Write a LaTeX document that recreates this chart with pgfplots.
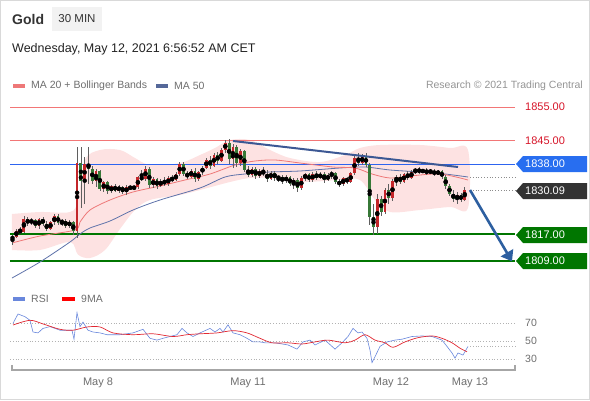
\documentclass[border=0pt]{standalone}
\usepackage{pgfplots}
\pgfplotsset{compat=1.18}
\usepackage{pgfplotstable}
\usepackage{fontspec}
\setmainfont{Liberation Sans}
\usetikzlibrary{arrows.meta}

\definecolor{bbfill}{RGB}{253,226,226}
\definecolor{ma20}{RGB}{238,120,120}
\definecolor{ma50}{RGB}{95,115,170}
\definecolor{candR}{RGB}{195,38,42}
\definecolor{candG}{RGB}{55,120,55}
\definecolor{wick}{RGB}{95,95,95}
\definecolor{lvlred}{RGB}{242,118,118}
\definecolor{lvlredtxt}{RGB}{214,20,40}
\definecolor{lvlblue}{RGB}{45,100,240}
\definecolor{tagblue}{RGB}{40,110,240}
\definecolor{lvlgreen}{RGB}{0,118,0}
\definecolor{tagdark}{RGB}{51,51,51}
\definecolor{trend}{RGB}{60,88,148}
\definecolor{arrowc}{RGB}{45,95,160}
\definecolor{rsiblue}{RGB}{105,135,220}
\definecolor{rsired}{RGB}{225,40,50}
\definecolor{txtgray}{RGB}{110,110,110}

\pgfplotstableread{
x o h l c
12.5 1815.5 1816.8 1813.7 1816.2
16.3 1816.2 1818.5 1815.8 1818.0
20.1 1818.0 1819.0 1817.0 1817.6
23.9 1817.6 1822.5 1817.3 1821.5
27.7 1821.5 1822.0 1819.5 1820.2
31.5 1820.2 1821.8 1819.8 1821.3
35.3 1821.3 1821.6 1818.8 1819.4
39.1 1819.4 1821.9 1818.5 1821.6
42.9 1821.6 1822.2 1819.5 1820.0
46.7 1820.0 1820.8 1817.8 1818.5
50.5 1818.5 1821.0 1818.2 1820.5
54.3 1820.5 1823.0 1819.6 1822.4
58.1 1822.4 1822.9 1819.8 1820.3
61.9 1820.3 1821.4 1819.4 1821.0
65.7 1821.0 1821.5 1818.8 1819.5
69.5 1819.5 1821.2 1818.9 1820.6
73.3 1820.6 1821.0 1816.8 1817.9
77.1 1817.9 1843.0 1815.8 1838.3
80.9 1838.3 1843.1 1824.8 1833.0
84.7 1833.0 1840.0 1826.0 1838.0
88.5 1838.0 1843.1 1832.0 1836.5
92.3 1836.5 1837.5 1832.0 1833.0
96.1 1833.0 1836.5 1831.0 1835.8
99.9 1835.8 1836.2 1829.8 1830.5
103.7 1830.5 1833.0 1829.6 1832.5
107.5 1832.5 1833.0 1829.0 1829.8
111.3 1829.8 1831.8 1829.2 1831.4
115.1 1831.4 1832.0 1829.5 1830.0
118.9 1830.0 1831.8 1829.4 1831.2
122.7 1831.2 1831.5 1829.0 1829.6
126.5 1829.6 1831.6 1828.8 1831.0
130.3 1831.0 1831.3 1830.5 1830.8
134.1 1830.8 1831.3 1830.4 1831.1
137.9 1831.1 1834.5 1830.4 1834.0
141.7 1834.0 1836.2 1833.0 1833.5
145.5 1833.5 1837.3 1833.0 1836.6
149.3 1836.6 1837.0 1830.8 1831.6
153.1 1831.6 1834.0 1830.8 1833.4
156.9 1833.4 1833.8 1830.6 1831.4
160.7 1831.4 1833.5 1831.0 1833.0
164.5 1833.0 1834.0 1831.3 1832.0
168.3 1832.0 1834.4 1831.5 1833.8
172.1 1833.8 1834.6 1832.5 1833.1
175.9 1833.1 1835.6 1832.8 1835.0
179.7 1835.0 1838.5 1834.5 1837.9
183.5 1837.9 1838.6 1834.4 1835.0
187.3 1835.0 1836.0 1833.5 1834.2
191.1 1834.2 1836.5 1833.8 1836.0
194.9 1836.0 1836.8 1832.6 1833.5
198.7 1833.5 1836.0 1833.0 1835.5
202.5 1835.5 1837.4 1834.8 1836.9
206.3 1836.9 1839.8 1836.4 1839.2
210.1 1839.2 1840.4 1836.5 1837.4
213.9 1837.4 1841.3 1837.0 1840.7
217.7 1840.7 1841.6 1838.0 1839.0
221.5 1839.0 1842.8 1838.6 1842.2
225.3 1842.2 1845.3 1841.4 1844.3
229.1 1844.3 1845.5 1838.0 1839.4
232.9 1839.4 1843.9 1836.8 1843.1
236.7 1843.1 1843.6 1837.1 1838.3
240.5 1838.3 1842.5 1837.4 1841.9
244.3 1841.9 1842.2 1835.6 1836.2
248.1 1836.2 1837.4 1834.1 1834.7
251.9 1834.7 1837.2 1834.1 1836.6
255.7 1836.6 1837.0 1833.5 1834.4
259.5 1834.4 1836.6 1833.8 1835.9
263.3 1835.9 1837.0 1834.4 1835.0
267.1 1835.0 1836.2 1832.6 1833.5
270.9 1833.5 1836.0 1833.2 1835.4
274.7 1835.4 1835.9 1833.0 1833.8
278.5 1833.8 1834.5 1832.6 1834.1
282.3 1834.1 1834.6 1832.0 1832.9
286.1 1832.9 1834.7 1832.3 1834.1
289.9 1834.1 1834.4 1831.4 1832.0
293.7 1832.0 1833.8 1830.5 1833.2
297.5 1833.2 1833.8 1829.6 1830.8
301.3 1830.8 1834.3 1830.2 1833.8
305.1 1833.8 1835.4 1832.9 1834.9
308.9 1834.9 1835.3 1832.6 1833.2
312.7 1833.2 1835.6 1832.7 1835.0
316.5 1835.0 1835.9 1833.2 1833.8
320.3 1833.8 1835.6 1833.4 1835.1
324.1 1835.1 1835.5 1832.3 1833.2
327.9 1833.2 1835.2 1832.9 1834.6
331.7 1834.6 1835.9 1833.6 1835.3
335.5 1835.3 1835.6 1832.0 1832.6
339.3 1832.6 1833.5 1831.1 1832.0
343.1 1832.0 1834.1 1831.4 1833.8
346.9 1833.8 1834.2 1832.0 1832.6
350.7 1832.6 1835.6 1832.3 1835.3
354.5 1835.3 1840.3 1834.8 1839.8
358.3 1839.8 1841.3 1837.4 1838.3
362.1 1838.3 1841.0 1837.7 1840.4
365.9 1840.4 1841.2 1837.0 1837.7
369.7 1837.7 1838.3 1819.7 1822.0
373.5 1822.0 1826.0 1816.7 1819.0
377.3 1819.0 1829.0 1817.0 1827.5
381.1 1827.5 1828.4 1822.5 1823.6
384.9 1823.6 1830.8 1823.0 1830.2
388.7 1830.2 1832.0 1826.0 1827.8
392.5 1827.8 1833.5 1827.0 1832.9
396.3 1832.9 1834.6 1831.5 1834.1
400.1 1834.1 1835.0 1832.0 1832.6
403.9 1832.6 1835.4 1832.3 1835.0
407.7 1835.0 1835.9 1833.2 1833.8
411.5 1833.8 1836.2 1833.5 1835.7
415.3 1835.7 1836.8 1834.9 1836.4
419.1 1836.4 1837.0 1835.1 1835.6
422.9 1835.6 1836.5 1835.3 1836.2
426.7 1836.2 1836.7 1834.6 1835.3
430.5 1835.3 1836.6 1835.0 1836.0
434.3 1836.0 1836.4 1834.4 1834.9
438.1 1834.9 1836.3 1834.6 1835.9
441.9 1835.9 1836.1 1833.6 1834.1
445.7 1834.1 1834.6 1830.5 1831.4
449.5 1831.4 1832.0 1828.4 1829.0
453.3 1829.0 1830.2 1826.6 1827.5
457.1 1827.5 1829.6 1826.0 1828.7
460.9 1828.7 1829.3 1826.6 1827.2
464.7 1827.2 1831.0 1826.9 1830.1
}\candles

\pgfplotstableread{
x p
13 69.6
18 80
25 77
30 73
33 60
38 59
43 64
50 66
60 62
72 62
74 52
77 81.5
80 66
83 71
88 62
93 60
100 59
107 57
120 57
133 59
143 63
150 53
157 51
163 53
170 55
177 57
182 64
187 59
193 55
200 59
210 64
215 60
220 64
223 60
228 68
233 59
240 57
247 53
253 49
260 49
265 48
275 48
288 45.6
297 41
303 49
310 51
315 45.6
325 51
335 41
342 48
348 55
353 64
358 59
362 60
367 53
370 40
372 26
375 32.5
380 44
387 49
395 51
402 52
412 55
422 55.6
432 55
442 51
447 44
452 36.7
455 31
458 36.7
463 34.4
468 44
}\rsi

\pgfplotstableread{
x p
13 67.8
30 73
43 69
60 63
73 62
87 65.6
100 65.6
113 59
133 57
153 58
173 55
187 57
200 58
217 59
233 61.5
247 59
260 53
272 48
288 48
302 46.7
315 49
328 51
345 48
355 51
365 57
375 51
385 48
393 43
405 49
418 53.7
432 55.6
442 53
452 48
460 42
467 38
}\rsima

\newcommand{\pricetag}[3]{%
  \fill[#2] (516,#1) -- (523,{#1+8}) -- (587,{#1+8}) -- (587,{#1-8}) -- (523,{#1-8}) -- cycle;
  \node[anchor=west,text=white,inner sep=0pt,font=\fontsize{11}{12}\selectfont] at (525,#1) {#3};}

\begin{document}
\begin{tikzpicture}[x=1pt,y=1pt]
\path[use as bounding box] (0,0) rectangle (590,400);
\draw[black!15] (0.5,0.5) rectangle (589.5,399.5);

% header
\node[anchor=west,inner sep=0pt,text={rgb,255:red,51;green,51;blue,51},font=\fontsize{14}{16}\selectfont\bfseries] at (12,381) {Gold};
\node[fill={rgb,255:red,242;green,242;blue,242},minimum width=50pt,minimum height=24pt,inner sep=0pt,text={rgb,255:red,51;green,51;blue,51},font=\fontsize{11.5}{13}\selectfont] at (77,381) {30 MIN};
\node[anchor=west,inner sep=0pt,text={rgb,255:red,34;green,34;blue,34},font=\fontsize{12.5}{14}\selectfont] at (12,351) {Wednesday, May 12, 2021 6:56:52 AM CET};

% legend
\fill[ma20] (13,312) rectangle (25,316);
\node[anchor=west,inner sep=0pt,text=txtgray,font=\fontsize{10.5}{12}\selectfont] at (31,314) {MA 20 + Bollinger Bands};
\fill[ma50!90!black] (156,312) rectangle (168,316);
\node[anchor=west,inner sep=0pt,text=txtgray,font=\fontsize{10.5}{12}\selectfont] at (174,314) {MA 50};
\node[anchor=east,inner sep=0pt,text=black!42,font=\fontsize{10.5}{12}\selectfont] at (583,314) {Research \textcopyright{} 2021 Trading Central};

% 1855 resistance line
\draw[lvlred,line width=1.1pt] (10,292.6) -- (515,292.6);

\begin{axis}[at={(10pt,120pt)},anchor=south west,scale only axis,
  width=505pt,height=185pt,xmin=10,xmax=515,ymin=1803.2,ymax=1858.7,
  axis lines=none,clip=false]
  % bollinger band
  \addplot[fill=bbfill,draw=none,smooth,tension=0.55] coordinates {
    (12,1823.0) (40,1823.6) (70,1823.6) (78,1827.2) (85,1839.2) (100,1842.2) (120,1842.2)
    (135,1839.8) (150,1837.7) (180,1838.3) (200,1840.7) (215,1842.8) (230,1845.2) (250,1845.2)
    (270,1842.2) (290,1839.8) (320,1838.6) (345,1840.7) (360,1842.8) (380,1843.7) (420,1843.7)
    (450,1842.8) (468,1842.2)
    (468,1824.8) (450,1825.1) (420,1824.2) (390,1823.6) (375,1827.2) (360,1833.2) (340,1833.2)
    (300,1832.6) (270,1833.8) (250,1833.8) (230,1832.6) (200,1830.2) (180,1828.7) (150,1827.2)
    (135,1824.2) (120,1818.5) (105,1812.2) (90,1809.8) (78,1810.8) (70,1814.6) (40,1812.2) (12,1812.2)
  } -- cycle;
  % level lines
  \addplot[color=lvlred,line width=1pt] coordinates {(10,1845) (515,1845)};
  \addplot[lvlblue,line width=0.9pt] coordinates {(10,1838) (515,1838)};
  \addplot[lvlgreen,line width=2pt] coordinates {(10,1817) (515,1817)};
  \addplot[lvlgreen,line width=2pt] coordinates {(10,1809) (515,1809)};
  \addplot[black!45,dotted,line width=0.8pt] coordinates {(470,1830.09) (515,1830.09)};
  \addplot[black!45,dotted,line width=0.8pt] coordinates {(470,1834.1) (515,1834.1)};
  % moving averages
  \addplot[ma50,line width=0.8pt,smooth] coordinates {
    (12,1803.8) (40,1808.6) (70,1814.6) (80,1817.0) (90,1818.8) (110,1820.9) (133,1824.2)
    (160,1827.2) (200,1830.8) (225,1834.1) (245,1835.0) (270,1835.6) (300,1835.9) (340,1836.8)
    (365,1837.1) (390,1836.2) (420,1835.6) (445,1835.0) (468,1834.1)};
  \addplot[ma20,line width=0.8pt,smooth] coordinates {
    (12,1814.3) (40,1816.4) (75,1818.2) (80,1820.6) (90,1824.2) (110,1827.2) (133,1829.6)
    (160,1831.4) (185,1833.2) (210,1835.0) (235,1837.7) (255,1838.9) (275,1839.2) (300,1838.3)
    (333,1837.1) (355,1836.8) (372,1835.0) (390,1833.8) (410,1834.4) (440,1835.0) (468,1833.2)};
  % wicks
  \addplot[only marks,mark=none,error bars/.cd,y dir=both,y explicit,error mark=none,
    error bar style={draw=wick,line width=0.5pt}]
    table[x=x,y expr={(\thisrow{h}+\thisrow{l})/2},y error expr={(\thisrow{h}-\thisrow{l})/2}] {\candles};
  % bodies up (red)
  \addplot[only marks,mark=none,x filter/.expression={\thisrow{c}>\thisrow{o} ? x : nan},
    error bars/.cd,y dir=both,y explicit,error mark=none,
    error bar style={draw=candR,line width=2.8pt}]
    table[x=x,y expr={(\thisrow{o}+\thisrow{c})/2},y error expr={max(abs(\thisrow{c}-\thisrow{o})/2,0.2)}] {\candles};
  % bodies down (green)
  \addplot[only marks,mark=none,x filter/.expression={\thisrow{c}>\thisrow{o} ? nan : x},
    error bars/.cd,y dir=both,y explicit,error mark=none,
    error bar style={draw=candG,line width=2.8pt}]
    table[x=x,y expr={(\thisrow{o}+\thisrow{c})/2},y error expr={max(abs(\thisrow{c}-\thisrow{o})/2,0.2)}] {\candles};
  % trend line and arrow
  \addplot[trend,line width=2pt] coordinates {(233,1844.9) (458,1837.1)};
  \addplot[arrowc,line width=2.6pt,-{Triangle[length=10pt,width=14pt]}] coordinates {(470,1830.2) (512,1808.8)};
\end{axis}

% level labels
\node[anchor=west,inner sep=0pt,text=lvlredtxt,font=\fontsize{11}{12}\selectfont] at (525,293) {1855.00};
\node[anchor=west,inner sep=0pt,text=lvlredtxt,font=\fontsize{11}{12}\selectfont] at (525,259) {1845.00};
\pricetag{236}{tagblue}{1838.00}
\pricetag{209}{tagdark}{1830.09}
\pricetag{165}{lvlgreen}{1817.00}
\pricetag{139}{lvlgreen}{1809.00}

% RSI legend
\fill[rsiblue] (13,99) rectangle (25,103);
\node[anchor=west,inner sep=0pt,text=txtgray,font=\fontsize{10.5}{12}\selectfont] at (31,101) {RSI};
\fill[red] (62,99) rectangle (75,103);
\node[anchor=west,inner sep=0pt,text=txtgray,font=\fontsize{10.5}{12}\selectfont] at (81,101) {9MA};

\begin{axis}[at={(10pt,30pt)},anchor=south west,scale only axis,
  width=505pt,height=65pt,xmin=10,xmax=515,ymin=17.78,ymax=90,
  axis lines=none,clip=false]
  \addplot[black!30,dotted,line width=0.8pt] coordinates {(10,70) (515,70)};
  \addplot[black!30,dotted,line width=0.8pt] coordinates {(10,50) (515,50)};
  \addplot[black!30,dotted,line width=0.8pt] coordinates {(10,30) (515,30)};
  \addplot[black!30,dotted,line width=0.8pt] coordinates {(470,44) (515,44)};
  \addplot[rsiblue,line width=0.6pt] table[x=x,y=p] {\rsi};
  \addplot[rsired,line width=0.7pt,smooth] table[x=x,y=p] {\rsima};
  \addplot[black!35,line width=1.2pt] coordinates {(12,23.5) (12,17.78) (515,17.78) (515,23.5)};
\end{axis}

\node[inner sep=0pt,text=txtgray,font=\fontsize{10.5}{12}\selectfont] at (531,77) {70};
\node[inner sep=0pt,text=txtgray,font=\fontsize{10.5}{12}\selectfont] at (531,59) {50};
\node[inner sep=0pt,text=txtgray,font=\fontsize{10.5}{12}\selectfont] at (531,41) {30};

\node[inner sep=0pt,text=txtgray,font=\fontsize{11}{12}\selectfont] at (98,17) {May 8};
\node[inner sep=0pt,text=txtgray,font=\fontsize{11}{12}\selectfont] at (248,17) {May 11};
\node[inner sep=0pt,text=txtgray,font=\fontsize{11}{12}\selectfont] at (391,17) {May 12};
\node[inner sep=0pt,text=txtgray,font=\fontsize{11}{12}\selectfont] at (470,17) {May 13};
\end{tikzpicture}
\end{document}
